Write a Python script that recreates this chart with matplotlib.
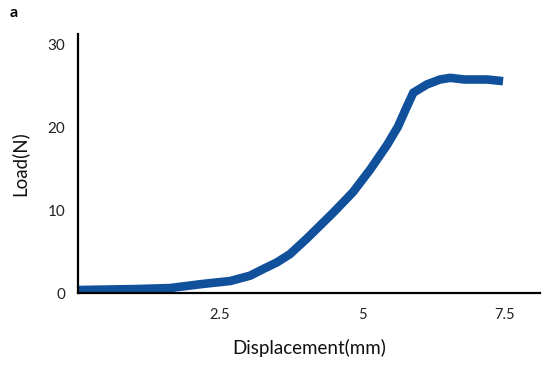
"""
load vs displacement curve, panel a
"""
import matplotlib
matplotlib.use("Agg")
from matplotlib import pyplot as plt

# values
displacement = [0.0, 1.04, 1.62, 2.20, 2.68, 3.03, 3.26, 3.50, 3.73, 4.03,
                4.49, 4.84, 5.14, 5.44, 5.63, 5.76, 5.90, 6.14, 6.37, 6.55,
                6.80, 7.20, 7.48]
load = [0.36, 0.48, 0.6, 1.1, 1.45, 2.1, 2.9, 3.7, 4.7, 6.6,
        9.7, 12.2, 14.9, 17.9, 20.1, 22.1, 24.2, 25.2, 25.8, 26.0,
        25.8, 25.8, 25.6]
x_ticks = [2.5, 5, 7.5]
x_labels = ["2.5", "5", "7.5"]
y_ticks = [0, 10, 20, 30]

plt.rcParams["font.family"] = ["Lato", "DejaVu Sans"]

fig = plt.figure(figsize=(5.5, 3.67), dpi=100)
ax = fig.add_axes([0.1418, 0.2016, 0.84, 0.7058])
ax.plot(displacement, load, color="#11519c", lw=6.2, solid_capstyle="butt",
        solid_joinstyle="round")

ax.set_xlim(0, 8.13)
ax.set_ylim(0, 31.3)
ax.set_xticks(x_ticks)
ax.set_xticklabels(x_labels)
ax.set_yticks(y_ticks)
ax.tick_params(axis="both", length=0, labelsize=10.5, colors="#222222")
ax.tick_params(axis="x", pad=11)
ax.tick_params(axis="y", pad=9, labelsize=11)

for s in ["top", "right"]:
    ax.spines[s].set_visible(False)
for s in ["left", "bottom"]:
    ax.spines[s].set_linewidth(1.6)
    ax.spines[s].set_color("black")

ax.set_xlabel("Displacement(mm)", fontsize=13.5, labelpad=12, color="#111111")
ax.set_ylabel("Load(N)", fontsize=13.5, labelpad=14, color="#111111")

fig.text(0.018, 0.965, "a", fontsize=11.5, fontweight="bold", va="center")

plt.savefig("out.png", dpi=100)
